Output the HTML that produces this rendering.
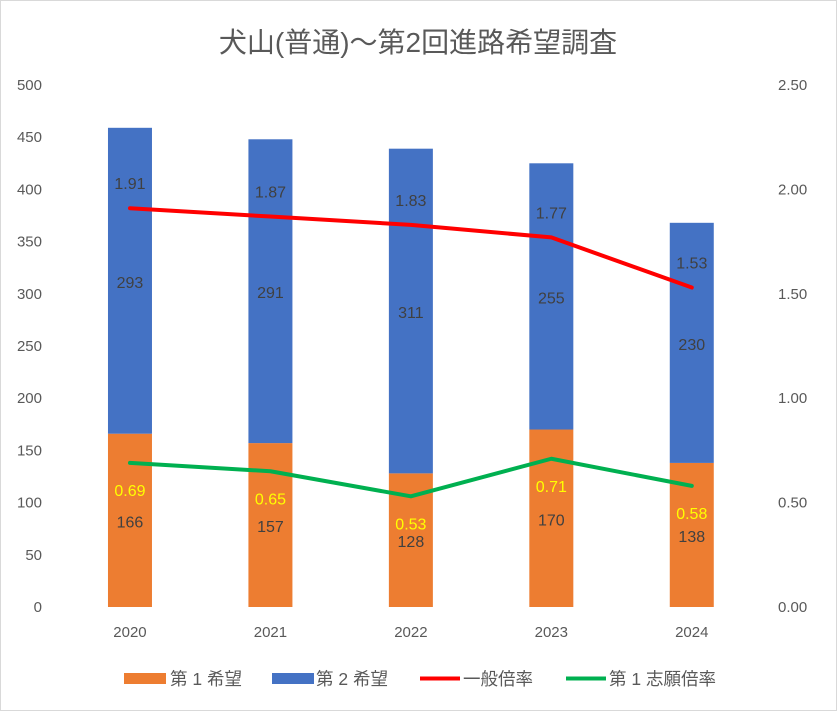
<!DOCTYPE html>
<html><head><meta charset="utf-8">
<style>
html,body{margin:0;padding:0;background:#fff;}
svg{display:block;font-family:"Liberation Sans","Noto Sans CJK JP",sans-serif;}
</style></head>
<body>
<svg id="chart" width="837" height="711" viewBox="0 0 837 711">
<rect x="0.5" y="0.5" width="836" height="710" fill="#fff" stroke="#d9d9d9"/>
<text x="418" y="52" text-anchor="middle" font-size="28" fill="#595959">犬山(普通)～第2回進路希望調査</text>
<g id="axes"></g>
<g id="bars"></g>
<g id="lines"></g>
<g id="labels"></g>
<g id="legend">
  <rect x="124" y="673" width="42" height="11" fill="#ed7d31"/>
  <text x="170" y="685" font-size="17.5" fill="#595959">第 1 希望</text>
  <rect x="272" y="673" width="42" height="11" fill="#4472c4"/>
  <text x="316" y="685" font-size="17.5" fill="#595959">第 2 希望</text>
  <line x1="420" y1="678.5" x2="460" y2="678.5" stroke="#ff0000" stroke-width="4"/>
  <text x="463" y="685" font-size="17.5" fill="#595959">一般倍率</text>
  <line x1="566" y1="678.5" x2="606" y2="678.5" stroke="#00b050" stroke-width="4"/>
  <text x="609" y="685" font-size="17.5" fill="#595959">第 1 志願倍率</text>
</g>
</svg>
<script>
const categories = ["2020","2021","2022","2023","2024"];
const firstChoice = [166,157,128,170,138];
const secondChoice = [293,291,311,255,230];
const generalRatio = [1.91,1.87,1.83,1.77,1.53];
const firstRatio = [0.69,0.65,0.53,0.71,0.58];
const leftTicks = [0,50,100,150,200,250,300,350,400,450,500];
const rightTicks = [0,0.5,1,1.5,2,2.5];

const NS="http://www.w3.org/2000/svg";
const plotL=59.75, plotR=762, y0=607, yTop=85;
const step=(plotR-plotL)/categories.length;
const xC=i=>plotL+step*(i+0.5);
const yL=v=>y0-(v/500)*(y0-yTop);
const yR=v=>y0-(v/2.5)*(y0-yTop);
function mk(tag,attrs,parent,text){const e=document.createElementNS(NS,tag);for(const k in attrs)e.setAttribute(k,attrs[k]);if(text!==undefined)e.textContent=text;parent.appendChild(e);return e;}
const axes=document.getElementById('axes'),bars=document.getElementById('bars'),lines=document.getElementById('lines'),labels=document.getElementById('labels');

leftTicks.forEach(t=>{const e=mk('text',{x:42,y:yL(t)+5,'text-anchor':'end','font-size':15,fill:'#595959'},axes,String(t));

});
rightTicks.forEach(t=>{const e=mk('text',{x:778,y:yR(t)+5,'font-size':15,fill:'#595959'},axes,t.toFixed(2));

});
categories.forEach((c,i)=>{const e=mk('text',{x:xC(i),y:637,'text-anchor':'middle','font-size':15,fill:'#595959'},axes,c);

});

const bw=44;
categories.forEach((c,i)=>{
 const a=firstChoice[i],b=secondChoice[i];
 const r1=mk('rect',{x:xC(i)-bw/2,y:yL(a),width:bw,height:y0-yL(a),fill:'#ed7d31'},bars);
 
 
 const r2=mk('rect',{x:xC(i)-bw/2,y:yL(a+b),width:bw,height:yL(a)-yL(a+b),fill:'#4472c4'},bars);
 
 
 const t1=mk('text',{x:xC(i),y:(y0+yL(a))/2+7,'text-anchor':'middle','font-size':16,fill:'#404040'},labels,String(a));
 
 
 const t2=mk('text',{x:xC(i),y:(yL(a)+yL(a+b))/2+7,'text-anchor':'middle','font-size':16,fill:'#404040'},labels,String(b));
 
 
});

const p1=mk('polyline',{points:generalRatio.map((v,i)=>xC(i)+','+yR(v)).join(' '),fill:'none',stroke:'#ff0000','stroke-width':4,'stroke-linejoin':'round','stroke-linecap':'round'},lines);


const p2=mk('polyline',{points:firstRatio.map((v,i)=>xC(i)+','+yR(v)).join(' '),fill:'none',stroke:'#00b050','stroke-width':4,'stroke-linejoin':'round','stroke-linecap':'round'},lines);



generalRatio.forEach((v,i)=>{const e=mk('text',{x:xC(i),y:yR(v)-19,'text-anchor':'middle','font-size':16,fill:'#404040'},labels,v.toFixed(2));

});
firstRatio.forEach((v,i)=>{const e=mk('text',{x:xC(i),y:yR(v)+33,'text-anchor':'middle','font-size':16,fill:'#ffff00'},labels,v.toFixed(2));

});
</script>
</body></html>
